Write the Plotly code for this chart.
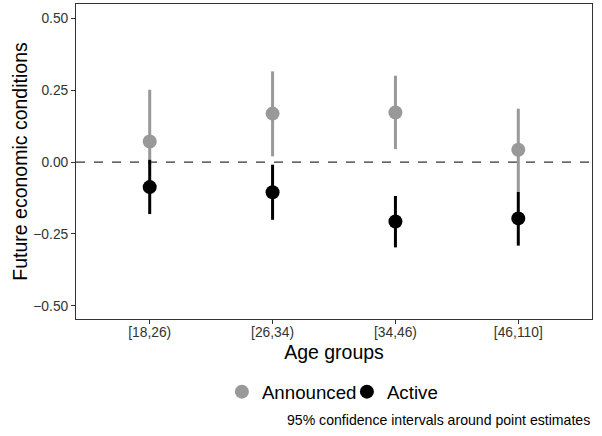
import plotly.graph_objects as go

categories = ["[18,26)", "[26,34)", "[34,46)", "[46,110]"]
announced_est = [0.072, 0.169, 0.173, 0.043]
announced_low = [-0.010, 0.020, 0.045, -0.104]
announced_high = [0.252, 0.316, 0.301, 0.186]
active_est = [-0.087, -0.105, -0.207, -0.196]
active_low = [-0.181, -0.201, -0.297, -0.291]
active_high = [0.008, -0.009, -0.118, -0.104]
y_ticks = [-0.5, -0.25, 0.0, 0.25, 0.5]
y_ticklabels = ["\u22120.50", "\u22120.25", "0.00", "0.25", "0.50"]

fig = go.Figure()

def add_series(name, est, low, high, color):
    fig.add_trace(go.Scatter(
        x=categories, y=est, mode="markers", name=name,
        marker=dict(color=color, size=14, symbol="circle", line=dict(width=0)),
        error_y=dict(type="data", symmetric=False,
                     array=[h - e for h, e in zip(high, est)],
                     arrayminus=[e - l for e, l in zip(est, low)],
                     color=color, thickness=3, width=0),
    ))

add_series("Announced", announced_est, announced_low, announced_high, "#999999")
add_series("Active", active_est, active_low, active_high, "#000000")

fig.add_hline(y=0, layer="below", line=dict(color="#333333", width=1.2, dash="dash"))

fig.update_layout(
    width=602, height=436,
    margin=dict(l=76, r=10, t=4, b=117),
    paper_bgcolor="white", plot_bgcolor="white",
    font=dict(family="Liberation Sans, Arial, sans-serif", color="#000000"),
    showlegend=True,
    legend=dict(orientation="h", x=0.525, xanchor="center", y=-0.2317, yanchor="middle",
                font=dict(size=18.7, color="#000000"), itemwidth=30,
                entrywidth=80, entrywidthmode="pixels",
                bgcolor="rgba(0,0,0,0)"),
    annotations=[dict(text="95% confidence intervals around point estimates",
                      x=1, xref="paper", xanchor="right",
                      y=-0.3206, yref="paper", yanchor="middle",
                      showarrow=False, font=dict(size=14.1, color="#000000"))],
)

fig.update_xaxes(
    type="category", categoryorder="array", categoryarray=categories,
    range=[-0.6, 3.6],
    showline=True, linecolor="#333333", linewidth=1, mirror=True,
    showgrid=False, zeroline=False,
    ticks="outside", ticklen=4, tickcolor="#333333", tickwidth=1,
    ticklabelstandoff=-4,
    tickfont=dict(size=13.8, color="#333333"),
    title=dict(text="Age groups", font=dict(size=19.5, color="#000000"), standoff=6),
)
fig.update_yaxes(
    range=[-0.5464, 0.5506],
    tickvals=y_ticks, ticktext=y_ticklabels,
    showline=True, linecolor="#333333", linewidth=1, mirror=True,
    showgrid=False, zeroline=False,
    ticks="outside", ticklen=4, tickcolor="#333333", tickwidth=1,
    tickfont=dict(size=13.8, color="#333333"),
    title=dict(text="Future economic conditions", font=dict(size=19.5, color="#000000"), standoff=0),
)

fig.write_html("out.html", config={"displayModeBar": False},
               post_script="document.body.style.margin='0';")
